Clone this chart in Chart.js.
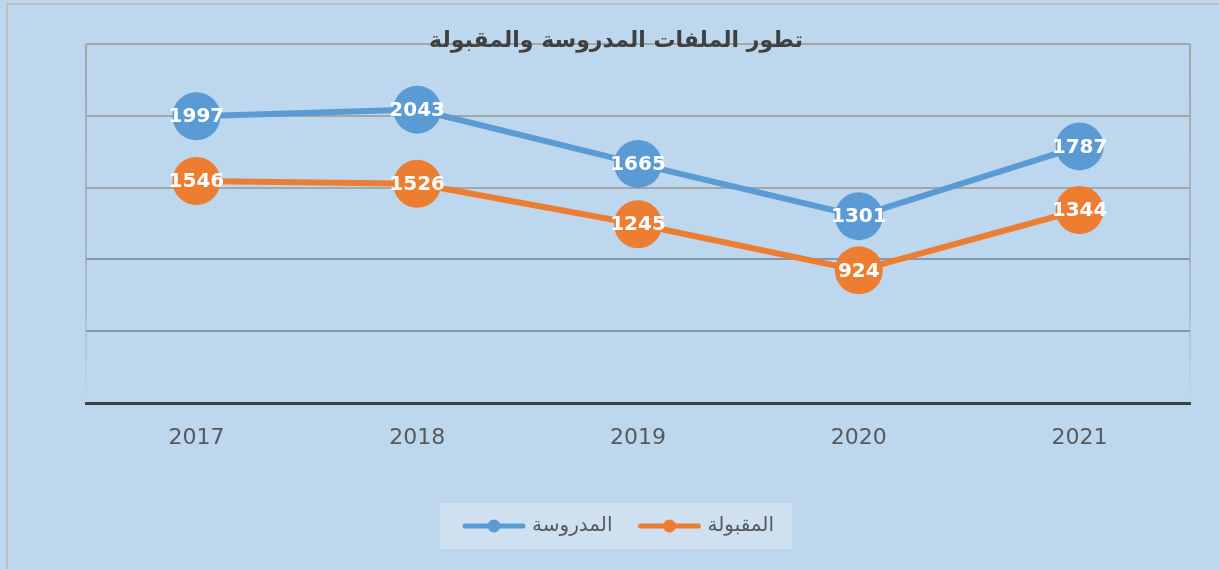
<!DOCTYPE html>
<html lang="ar">
<head>
<meta charset="utf-8">
<script src="https://cdn.jsdelivr.net/npm/chart.js@4/dist/chart.umd.min.js"></script>
<style>
  html, body { margin: 0; padding: 0; background: #BDD7EE; }
  #wrap { width: 1219px; height: 569px; }
</style>
</head>
<body>
<div id="wrap"><canvas id="evoChart" width="1219" height="569"></canvas></div>
<script>
const chartTitle = 'تطور الملفات المدروسة والمقبولة';
const years = ['2017', '2018', '2019', '2020', '2021'];
const studiedName = 'المدروسة';
const acceptedName = 'المقبولة';
const studied = [1997, 2043, 1665, 1301, 1787];
const accepted = [1546, 1526, 1245, 924, 1344];

const BLUE = '#5B9BD5';
const ORANGE = '#ED7D31';
const TXT = '#595959';

function legendIcon(color) {
  const c = document.createElement('canvas');
  c.width = 64; c.height = 14;
  const g = c.getContext('2d');
  g.strokeStyle = color;
  g.lineWidth = 5;
  g.lineCap = 'round';
  g.beginPath(); g.moveTo(3, 7); g.lineTo(61, 7); g.stroke();
  g.fillStyle = color;
  g.beginPath(); g.arc(32, 7, 6.5, 0, Math.PI * 2); g.fill();
  return c;
}

// nudge the legend to where it sits in the original
const legendShift = {
  id: 'legendShift',
  afterLayout(chart) {
    const lg = chart.legend;
    lg.left -= 18; lg.right -= 18;
    lg.top -= 16; lg.bottom -= 16;
  }
};

// background, outer border, legend box
const backdrop = {
  id: 'backdrop',
  beforeDraw(chart) {
    const ctx = chart.ctx;
    ctx.save();
    ctx.fillStyle = '#BDD7EE';
    ctx.fillRect(0, 0, chart.width, chart.height);
    ctx.strokeStyle = '#BFBFBF';
    ctx.lineWidth = 2;
    ctx.strokeRect(7, 4, chart.width, chart.height);
    const boxes = chart.legend.legendHitBoxes;
    if (boxes && boxes.length) {
      let l = Infinity, r = -Infinity, t = Infinity, b = -Infinity;
      boxes.forEach(h => {
        l = Math.min(l, h.left); r = Math.max(r, h.left + h.width);
        t = Math.min(t, h.top); b = Math.max(b, h.top + h.height);
      });
      ctx.fillStyle = '#CFE0F1';
      ctx.fillRect(l - 26, t - 13, r - l + 44, b - t + 26);
    }
    ctx.restore();
  }
};

// plot frame sides + title
const frameAndTitle = {
  id: 'frameAndTitle',
  beforeDatasetsDraw(chart) {
    const { ctx, chartArea: a } = chart;
    ctx.save();
    const grad = ctx.createLinearGradient(0, a.top, 0, a.bottom);
    grad.addColorStop(0, '#A6A6A6');
    grad.addColorStop(0.7, 'rgba(166,166,166,0.6)');
    grad.addColorStop(1, 'rgba(166,166,166,0)');
    ctx.strokeStyle = grad;
    ctx.lineWidth = 2;
    ctx.beginPath();
    ctx.moveTo(a.left, a.top); ctx.lineTo(a.left, a.bottom);
    ctx.moveTo(a.right, a.top); ctx.lineTo(a.right, a.bottom);
    ctx.stroke();
    ctx.restore();
  },
  afterDraw(chart) {
    const { ctx, chartArea: a } = chart;
    ctx.save();
    ctx.font = 'bold 22px "DejaVu Sans", sans-serif';
    ctx.fillStyle = '#404040';
    ctx.textAlign = 'center';
    ctx.textBaseline = 'middle';
    ctx.fillText(chartTitle, 616, a.top - 3);
    ctx.restore();
  }
};

// value labels inside the markers
const valueLabels = {
  id: 'valueLabels',
  afterDatasetsDraw(chart) {
    const ctx = chart.ctx;
    ctx.save();
    ctx.font = 'bold 20px "DejaVu Sans", sans-serif';
    ctx.fillStyle = '#FFFFFF';
    ctx.textAlign = 'center';
    ctx.textBaseline = 'middle';
    chart.data.datasets.forEach((ds, i) => {
      chart.getDatasetMeta(i).data.forEach((pt, j) => {
        ctx.fillText(String(ds.data[j]), pt.x, pt.y + 1);
      });
    });
    ctx.restore();
  }
};

const ctx = document.getElementById('evoChart').getContext('2d');
new Chart(ctx, {
  type: 'line',
  data: {
    labels: years,
    datasets: [
      {
        label: studiedName,
        data: studied,
        borderColor: BLUE,
        backgroundColor: BLUE,
        borderWidth: 6,
        pointRadius: 24,
        pointHoverRadius: 24,
        pointBorderWidth: 0,
        pointBackgroundColor: BLUE,
        tension: 0
      },
      {
        label: acceptedName,
        data: accepted,
        borderColor: ORANGE,
        backgroundColor: ORANGE,
        borderWidth: 6,
        pointRadius: 24,
        pointHoverRadius: 24,
        pointBorderWidth: 0,
        pointBackgroundColor: ORANGE,
        tension: 0
      }
    ]
  },
  options: {
    responsive: false,
    animation: false,
    devicePixelRatio: 1,
    layout: { padding: { left: 86, right: 29, top: 44, bottom: 7 } },
    plugins: {
      title: { display: false },
      tooltip: { enabled: false },
      legend: {
        position: 'bottom',
        labels: {
          usePointStyle: true,
          pointStyleWidth: 56,
          padding: 29,
          color: TXT,
          font: { family: '"DejaVu Sans", sans-serif', size: 20 },
          generateLabels(chart) {
            return chart.data.datasets.map((ds, i) => ({
              text: ds.label,
              pointStyle: legendIcon(ds.borderColor),
              fillStyle: ds.borderColor,
              strokeStyle: ds.borderColor,
              lineWidth: 0,
              fontColor: TXT,
              hidden: false,
              datasetIndex: i
            }));
          }
        }
      }
    },
    scales: {
      x: {
        offset: true,
        grid: { display: false, drawTicks: false },
        border: { display: true, color: '#404040', width: 3 },
        ticks: {
          color: TXT,
          padding: 22,
          font: { family: '"DejaVu Sans", sans-serif', size: 22 }
        },
        afterFit(scale) { scale.height = 100; }
      },
      y: {
        min: 0,
        max: 2500,
        ticks: { display: false, stepSize: 500 },
        border: { display: false },
        grid: {
          drawTicks: false,
          lineWidth: 2,
          color(c) {
            const v = c.tick.value;
            if (v === 0) return 'rgba(0,0,0,0)';
            if (v <= 1000) return '#8497B0';
            return '#A6A6A6';
          }
        },
        afterFit(scale) { scale.width = 0; }
      }
    }
  },
  plugins: [legendShift, backdrop, frameAndTitle, valueLabels]
});
</script>
</body>
</html>
